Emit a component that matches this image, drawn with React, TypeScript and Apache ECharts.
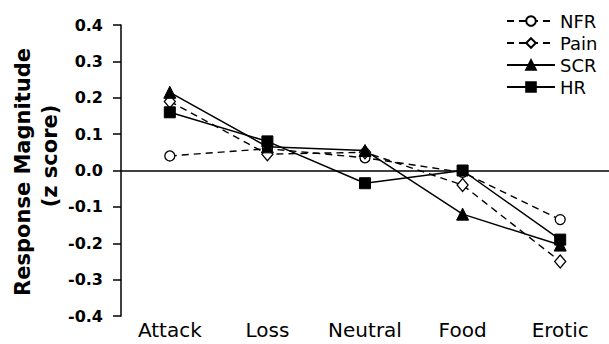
import React, { useEffect, useRef } from "react";
import * as echarts from "echarts";

const categories = ["Attack", "Loss", "Neutral", "Food", "Erotic"];
const seriesNames = ["NFR", "Pain", "SCR", "HR"];
const nfr = [0.04, 0.06, 0.035, -0.005, -0.135];
const pain = [0.19, 0.045, 0.05, -0.04, -0.25];
const scr = [0.215, 0.065, 0.055, -0.12, -0.205];
const hr = [0.16, 0.08, -0.035, 0.0, -0.19];
const yMin = -0.4;
const yMax = 0.4;
const yStep = 0.1;
const yTitle1 = "Response Magnitude";
const yTitle2 = "(z score)";

const FONT = '"DejaVu Sans", sans-serif';

export default function App() {
  const ref = useRef<HTMLDivElement>(null);
  useEffect(() => {
    if (!ref.current) return;
    const chart = echarts.init(ref.current, null, { renderer: "svg" });
    const dashed = [7, 5];
    chart.setOption({
      animation: false,
      backgroundColor: "#fff",
      grid: { left: 121, right: 0, top: 25, bottom: 28 },
      legend: {
        data: seriesNames,
        orient: "vertical",
        left: 506,
        top: 12,
        padding: 0,
        itemWidth: 48,
        itemHeight: 12,
        itemGap: 4,
        textStyle: { fontFamily: FONT, fontSize: 18, color: "#000" },
      },
      xAxis: {
        type: "category",
        data: categories,
        boundaryGap: true,
        axisLine: { show: false },
        axisTick: { show: false },
        axisLabel: { fontFamily: FONT, fontSize: 20, color: "#000", margin: 4 },
        splitLine: { show: false },
      },
      yAxis: {
        type: "value",
        min: yMin,
        max: yMax,
        interval: yStep,
        axisLine: { show: true, lineStyle: { color: "#000", width: 1.5 } },
        axisTick: { show: true, inside: false, length: 8, lineStyle: { color: "#000", width: 1.5 } },
        axisLabel: {
          fontFamily: FONT,
          fontSize: 16,
          fontWeight: "bold",
          color: "#000",
          margin: 18,
          formatter: (v: number) => v.toFixed(1),
        },
        splitLine: { show: false },
      },
      graphic: [
        {
          type: "text",
          x: 23,
          y: 172,
          rotation: Math.PI / 2,
          style: {
            text: yTitle1,
            fontFamily: FONT,
            fontSize: 21,
            fontWeight: "bold",
            fill: "#000",
            textAlign: "center",
            textVerticalAlign: "middle",
            align: "center",
            verticalAlign: "middle",
          },
        },
        {
          type: "text",
          x: 50,
          y: 156,
          rotation: Math.PI / 2,
          style: {
            text: yTitle2,
            fontFamily: FONT,
            fontSize: 21,
            fontWeight: "bold",
            fill: "#000",
            textAlign: "center",
            textVerticalAlign: "middle",
            align: "center",
            verticalAlign: "middle",
          },
        },
      ],
      series: [
        {
          name: "NFR",
          type: "line",
          data: nfr,
          symbol: "circle",
          symbolSize: 10,
          showAllSymbol: true,
          itemStyle: { color: "#fff", borderColor: "#000", borderWidth: 1.3 },
          lineStyle: { color: "#000", width: 1.4, type: dashed },
          z: 2,
          markLine: {
            silent: true,
            symbol: ["none", "none"],
            label: { show: false },
            lineStyle: { color: "#000", width: 1.6, type: "solid" },
            data: [{ yAxis: 0 }],
          },
        },
        {
          name: "Pain",
          type: "line",
          data: pain,
          symbol: "diamond",
          symbolSize: [11, 13],
          showAllSymbol: true,
          itemStyle: { color: "#fff", borderColor: "#000", borderWidth: 1.3 },
          lineStyle: { color: "#000", width: 1.4, type: dashed },
          z: 3,
        },
        {
          name: "SCR",
          type: "line",
          data: scr,
          symbol: "triangle",
          symbolSize: 12,
          showAllSymbol: true,
          itemStyle: { color: "#000", borderColor: "#000", borderWidth: 1 },
          lineStyle: { color: "#000", width: 1.5, type: "solid" },
          z: 4,
        },
        {
          name: "HR",
          type: "line",
          data: hr,
          symbol: "rect",
          symbolSize: 11,
          showAllSymbol: true,
          itemStyle: { color: "#000", borderColor: "#000", borderWidth: 1 },
          lineStyle: { color: "#000", width: 1.5, type: "solid" },
          z: 5,
        },
      ],
    });
    return () => chart.dispose();
  }, []);
  return (
    <div
      ref={ref}
      style={{ position: "absolute", left: 0, top: 0, width: 609, height: 344, background: "#fff" }}
    />
  );
}
